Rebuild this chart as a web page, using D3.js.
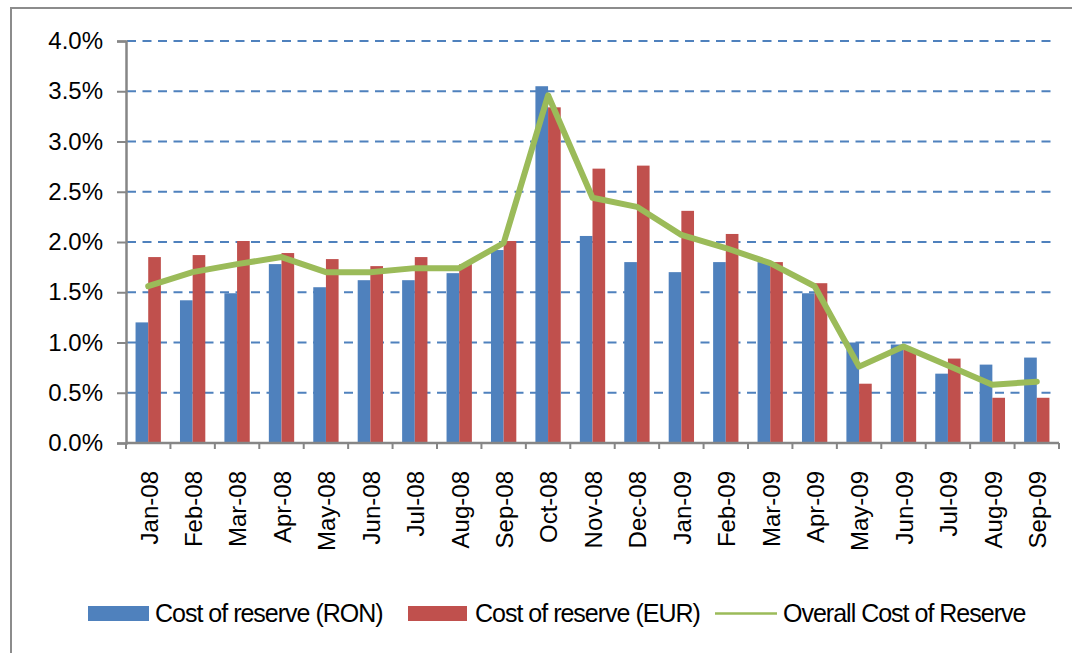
<!DOCTYPE html>
<html>
<head>
<meta charset="utf-8">
<script src="https://cdn.jsdelivr.net/npm/d3@7"></script>
<style>
  body { margin: 0; background: #fff; }
  text { font-family: "Liberation Sans", Arial, sans-serif; fill: #000; }
</style>
</head>
<body>
<div id="chart"></div>
<script>
// data
var months = ["Jan-08","Feb-08","Mar-08","Apr-08","May-08","Jun-08","Jul-08","Aug-08","Sep-08","Oct-08","Nov-08","Dec-08",
              "Jan-09","Feb-09","Mar-09","Apr-09","May-09","Jun-09","Jul-09","Aug-09","Sep-09"];
var costRON = [1.20,1.42,1.49,1.78,1.55,1.62,1.62,1.69,1.92,3.55,2.06,1.80,1.70,1.80,1.80,1.49,1.00,0.98,0.69,0.78,0.85];
var costEUR = [1.85,1.87,2.01,1.89,1.83,1.76,1.85,1.78,2.01,3.34,2.73,2.76,2.31,2.08,1.80,1.59,0.59,0.93,0.84,0.45,0.45];
var overall = [1.56,1.70,1.78,1.85,1.70,1.70,1.74,1.74,1.99,3.46,2.44,2.35,2.07,1.94,1.79,1.56,0.76,0.96,0.77,0.58,0.61];
var yTicks = [0,0.5,1,1.5,2,2.5,3,3.5,4];
var seriesNames = ["Cost of reserve (RON)","Cost of reserve (EUR)","Overall Cost of Reserve"];

(function() {
    var width = 1072,
        height = 653;
    var blue = "#4F81BD", red = "#C0504D", green = "#9BBB59", axisGrey = "#868686";

    var svg = d3.select("#chart")
        .append("svg")
        .attr("width", width)
        .attr("height", height);

    // chart frame (only top and left edges are in view)
    svg.append("path")
        .attr("d", "M11,653 L11,8 L1072,8")
        .attr("fill", "none")
        .attr("stroke", "#8c8c8c")
        .attr("stroke-width", 2);

    var left = 126, right = 1059, top = 41, bottom = 443;

    var x0 = d3.scaleBand().domain(months).range([left, right])
        .paddingInner(0.43).paddingOuter(0.215);
    var x1 = d3.scaleBand().domain([0, 1]).range([0, x0.bandwidth()]);
    var y = d3.scaleLinear().domain([0, 4]).range([bottom, top]);

    //dashed gridlines
    svg.append("g")
        .selectAll("line")
        .data(yTicks.slice(1))
        .enter().append("line")
        .attr("x1", left + 1)
        .attr("x2", 1054)
        .attr("y1", function(d) { return y(d) })
        .attr("y2", function(d) { return y(d) })
        .attr("stroke", blue)
        .attr("stroke-width", 2)
        .attr("stroke-dasharray", "9,6.5");

    //bars
    var groups = svg.append("g")
        .selectAll("g")
        .data(months)
        .enter().append("g")
        .attr("transform", function(d) { return "translate(" + x0(d) + ",0)" });

    groups.append("rect")
        .attr("x", x1(0))
        .attr("width", x1.bandwidth())
        .attr("y", function(d, i) { return y(costRON[i]) })
        .attr("height", function(d, i) { return bottom - y(costRON[i]) })
        .attr("fill", blue);

    groups.append("rect")
        .attr("x", x1(1))
        .attr("width", x1.bandwidth())
        .attr("y", function(d, i) { return y(costEUR[i]) })
        .attr("height", function(d, i) { return bottom - y(costEUR[i]) })
        .attr("fill", red);

    //y axis
    var yAxis = svg.append("g")
        .attr("transform", "translate(" + left + ",0)")
        .call(d3.axisLeft(y).tickValues(yTicks).tickSize(9).tickPadding(14)
            .tickFormat(function(d) { return d.toFixed(1) + "%" }));
    yAxis.select(".domain").attr("stroke", axisGrey).attr("stroke-width", 2.5);
    yAxis.selectAll(".tick line").attr("stroke", axisGrey).attr("stroke-width", 2);
    yAxis.selectAll(".tick text")
        .attr("font-size", 24)
        .attr("font-family", "Liberation Sans, Arial, sans-serif")
        .attr("fill", "#000");

    //x axis
    var xEdge = d3.scaleLinear().domain([0, months.length]).range([left, right]);
    var xAxis = svg.append("g")
        .attr("transform", "translate(0," + bottom + ")");
    xAxis.append("line")
        .attr("x1", left).attr("x2", right)
        .attr("stroke", axisGrey).attr("stroke-width", 2.5);
    xAxis.selectAll(".tk")
        .data(d3.range(months.length + 1))
        .enter().append("line")
        .attr("class", "tk")
        .attr("x1", function(d) { return xEdge(d) })
        .attr("x2", function(d) { return xEdge(d) })
        .attr("y1", 0).attr("y2", 6)
        .attr("stroke", axisGrey).attr("stroke-width", 2);
    xAxis.selectAll("text")
        .data(months)
        .enter().append("text")
        .attr("transform", function(d) {
            return "translate(" + (x0(d) + x0.bandwidth() / 2 + 1) + ",28) rotate(-90)";
        })
        .attr("text-anchor", "end")
        .attr("dy", "0.35em")
        .attr("font-size", 24)
        .text(function(d) { return d });

    //overall line
    var line = d3.line()
        .x(function(d, i) { return x0(months[i]) + x0.bandwidth() / 2 })
        .y(function(d) { return y(d) });
    svg.append("path")
        .datum(overall)
        .attr("d", line)
        .attr("fill", "none")
        .attr("stroke", green)
        .attr("stroke-width", 6)
        .attr("stroke-linejoin", "round")
        .attr("stroke-linecap", "round");

    //legend
    var legend = svg.append("g").attr("font-size", 25).attr("letter-spacing", "-1px");
    legend.append("rect").attr("x", 88).attr("y", 606).attr("width", 61).attr("height", 15).attr("fill", blue);
    legend.append("text").attr("x", 155).attr("y", 622).text(seriesNames[0]);
    legend.append("rect").attr("x", 408).attr("y", 606).attr("width", 59).attr("height", 15).attr("fill", red);
    legend.append("text").attr("x", 475).attr("y", 622).text(seriesNames[1]);
    legend.append("line").attr("x1", 715).attr("x2", 777).attr("y1", 613.5).attr("y2", 613.5)
        .attr("stroke", green).attr("stroke-width", 2.5);
    legend.append("text").attr("x", 783).attr("y", 622).text(seriesNames[2]);
})();
</script>
</body>
</html>
